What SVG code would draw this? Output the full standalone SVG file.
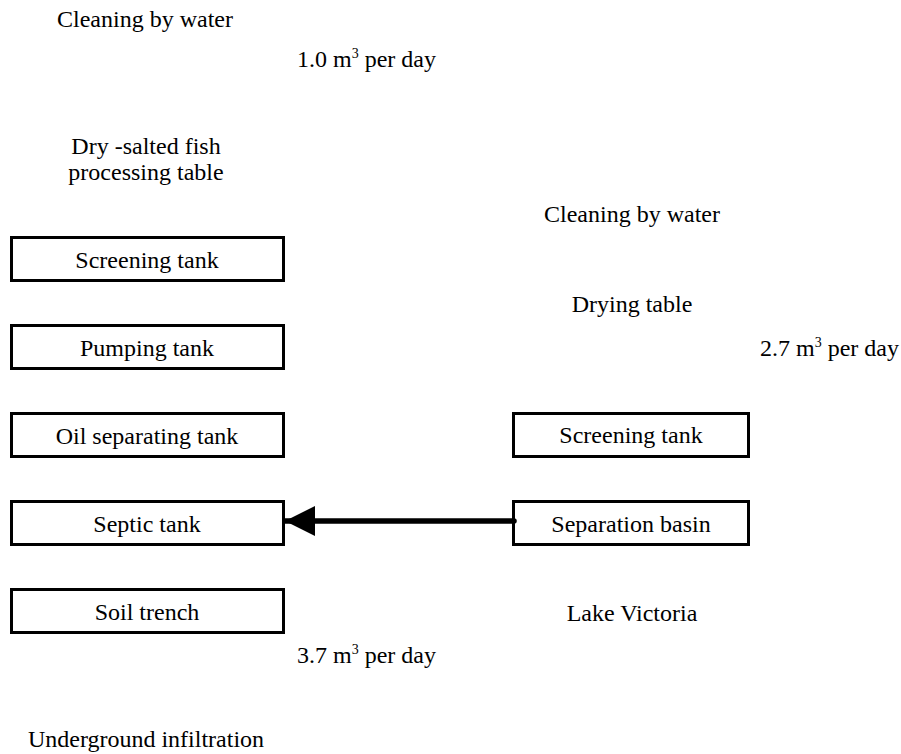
<svg xmlns="http://www.w3.org/2000/svg" width="901" height="754" viewBox="0 0 901 754">
  <style>
    text { font-family: "Liberation Serif", "Times New Roman", serif; font-size: 24px; fill: #000; }
    .c { text-anchor: middle; }
    .box { fill: #fff; stroke: #000; stroke-width: 3; }
    .sup { font-size: 14px; }
  </style>
  <defs>
    <marker id="arrowhead" markerUnits="userSpaceOnUse" markerWidth="32" markerHeight="32" refX="30" refY="15" orient="auto">
      <path d="M0,0 L30,15 L0,30 Z" fill="#000"/>
    </marker>
  </defs>
  <rect width="901" height="754" fill="#fff"/>

  <!-- free labels -->
  <text x="145" y="27" class="c">Cleaning by water</text>
  <text x="297" y="67">1.0 m<tspan class="sup" dy="-9">3</tspan><tspan dy="9"> per day</tspan></text>
  <text x="146" y="154" class="c">Dry -salted fish</text>
  <text x="146" y="180" class="c">processing table</text>
  <text x="632" y="222" class="c">Cleaning by water</text>
  <text x="632" y="312" class="c">Drying table</text>
  <text x="760" y="356">2.7 m<tspan class="sup" dy="-9">3</tspan><tspan dy="9"> per day</tspan></text>
  <text x="632" y="621" class="c">Lake Victoria</text>
  <text x="297" y="663">3.7 m<tspan class="sup" dy="-9">3</tspan><tspan dy="9"> per day</tspan></text>
  <text x="146" y="747" class="c">Underground infiltration</text>

  <!-- left column -->
  <g id="screening-tank-left">
    <rect class="box" x="11.5" y="237.5" width="272" height="43"/>
    <text x="147" y="268" class="c">Screening tank</text>
  </g>
  <g id="pumping-tank">
    <rect class="box" x="11.5" y="325.5" width="272" height="43"/>
    <text x="147" y="356" class="c">Pumping tank</text>
  </g>
  <g id="oil-separating-tank">
    <rect class="box" x="11.5" y="413.5" width="272" height="43"/>
    <text x="147" y="444" class="c">Oil separating tank</text>
  </g>
  <g id="septic-tank">
    <rect class="box" x="11.5" y="501.5" width="272" height="43"/>
    <text x="147" y="532" class="c">Septic tank</text>
  </g>
  <g id="soil-trench">
    <rect class="box" x="11.5" y="589.5" width="272" height="43"/>
    <text x="147" y="620" class="c">Soil trench</text>
  </g>

  <!-- right column -->
  <g id="screening-tank-right">
    <rect class="box" x="513.5" y="413.5" width="235" height="43"/>
    <text x="631" y="443" class="c">Screening tank</text>
  </g>
  <g id="separation-basin">
    <rect class="box" x="513.5" y="501.5" width="235" height="43"/>
    <text x="631" y="532" class="c">Separation basin</text>
  </g>

  <!-- connectors -->
  <g id="connectors">
    <line x1="514" y1="521" x2="285" y2="521" stroke="#000" stroke-width="5.5" stroke-linecap="round" marker-end="url(#arrowhead)"/>
  </g>
</svg>
